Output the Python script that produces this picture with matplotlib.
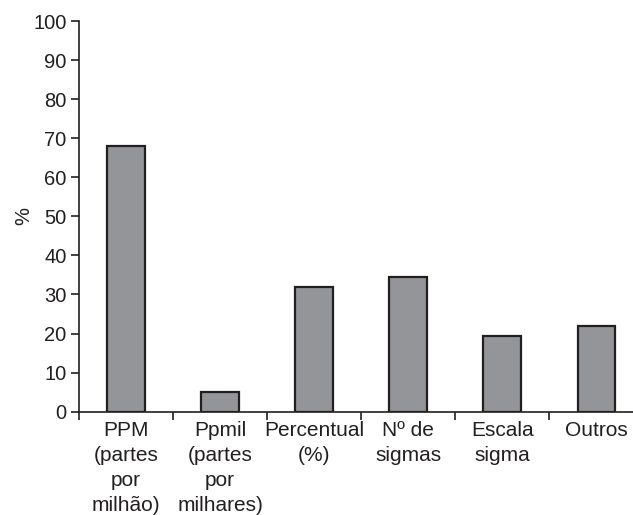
import matplotlib
matplotlib.use("Agg")
import matplotlib.pyplot as plt
import numpy as np

categories = ["PPM\n(partes\npor\nmilhão)", "Ppmil\n(partes\npor\nmilhares)", "Percentual\n(%)",
              "Nº de\nsigmas", "Escala\nsigma", "Outros"]
values = [68.1, 5.0, 31.9, 34.6, 19.3, 21.9]
yticks = list(range(0, 101, 10))

ink = "#231f20"
plt.rcParams["font.family"] = ["Liberation Sans", "DejaVu Sans"]

fig = plt.figure(figsize=(6.33, 5.15), dpi=100)
ax = fig.add_axes([79/633, 1 - 411.7/515, 554/633, (411.7 - 21)/515])

x = np.arange(len(categories))
ax.bar(x, values, width=0.4, color="#939598", edgecolor=ink, linewidth=1.6, zorder=3)

ax.set_ylim(0, 100)
ax.set_xlim(-0.5, 5.39)
ax.set_yticks(yticks)
ax.set_yticklabels([str(v) for v in yticks], fontsize=14.5, color=ink)
ax.tick_params(axis="y", direction="out", length=6, width=1.2, color=ink, pad=3)

ax.set_xticks(np.arange(-0.5, 5.0, 1.0))
ax.set_xticklabels([])
ax.tick_params(axis="x", which="major", direction="out", length=6, width=1.2, color=ink)
ax.set_xticks(x, minor=True)
ax.set_xticklabels(categories, minor=True, fontsize=15, color=ink, linespacing=1.38, va="top")
ax.tick_params(axis="x", which="minor", length=0, pad=7)

for s in ["top", "right"]:
    ax.spines[s].set_visible(False)
for s in ["left", "bottom"]:
    ax.spines[s].set_color(ink)
    ax.spines[s].set_linewidth(1.2)

ax.set_ylabel("%", fontsize=14.5, color=ink, labelpad=0)

fig.savefig("out.png", dpi=100)
